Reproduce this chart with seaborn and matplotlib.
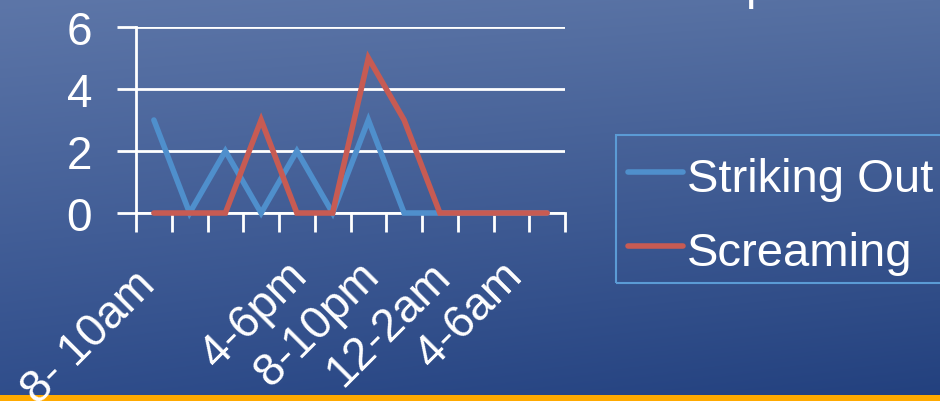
import numpy as np
import pandas as pd
import matplotlib
matplotlib.use('Agg')
import matplotlib.pyplot as plt
from matplotlib.patches import Rectangle
import seaborn as sns

# two-hour time slots, starting at 8am
slots = ["8- 10am ", "10-12pm", "12-2pm", "2-4pm", "4-6pm", "6-8pm",
         "8-10pm", "10-12am", "12-2am", "2-4am", "4-6am", "6-8am"]
# slots whose label is visible on the axis
shown_slots = ["8- 10am ", "4-6pm", "8-10pm", "12-2am", "4-6am"]

striking_out = [3, 0, 2, 0, 2, 0, 3, 0, 0, 0, 0, 0]
screaming = [0, 0, 0, 3, 0, 0, 5, 3, 0, 0, 0, 0]
series_names = ["Striking Out", "Screaming"]
y_ticks = [0, 2, 4, 6]

W, H = 940, 402
pos = np.arange(len(slots))
df = pd.DataFrame({
    "slot": np.concatenate([pos, pos]),
    "count": striking_out + screaming,
    "series": [series_names[0]] * len(slots) + [series_names[1]] * len(slots),
})

sns.set_style("white")
plt.rcParams['font.family'] = ['Liberation Sans', 'DejaVu Sans']

fig = plt.figure(figsize=(W / 100, H / 100), dpi=100)

# slide background: blue gradient + orange strip at the bottom
bg = fig.add_axes([0, 0, 1, 1], zorder=-5)
tl, tr = np.array([93, 118, 168]), np.array([86, 112, 162])
bl, br = np.array([47, 77, 139]), np.array([34, 64, 126])
gy, gx = np.mgrid[0:1:200j, 0:1:400j]
grad = ((1 - gy)[..., None] * ((1 - gx)[..., None] * tl + gx[..., None] * tr)
        + gy[..., None] * ((1 - gx)[..., None] * bl + gx[..., None] * br)) / 255
bg.imshow(grad, aspect='auto', extent=[0, 1, 0, 1], origin='upper')
bg.add_patch(Rectangle((0, 0), 1, 6.3 / H, color='#FFAA00', lw=0))
# legend frame (runs off the right edge of the slide)
bg.add_patch(Rectangle((616 / W, 1 - 284 / H), 0.4, 148 / H, fill=False,
                       edgecolor='#5B9BD5', lw=1.5))
bg.set_xlim(0, 1)
bg.set_ylim(0, 1)
bg.axis('off')

# cut-off slide title (only a descender shows)
fig.text(745 / W, 1 + 1 / H, "p", color='white', fontsize=34, va='baseline', ha='left')

ax = fig.add_axes([136 / W, 1 - 214 / H, (565 - 136) / W, (214 - 28) / H])
ax.set_facecolor('none')
sns.lineplot(data=df, x="slot", y="count", hue="series",
             palette=['#4F8FCC', '#C75B53'], linewidth=4, ax=ax,
             legend=False, clip_on=False, zorder=5)
for ln in ax.lines:
    ln.set_solid_capstyle('round')
    ln.set_solid_joinstyle('miter')

ax.set_xlim(-0.5, len(slots) - 0.5)
ax.set_ylim(0, 6)
ax.set_yticks(y_ticks)
ax.yaxis.grid(True, color='white', lw=2)
ax.set_axisbelow(True)

ax.set_xticks(np.arange(len(slots) + 1) - 0.5)
ax.set_xticklabels([])
ax.set_xticks(pos + 0.1, minor=True)
ax.set_xticklabels([s if s in shown_slots else "" for s in slots], minor=True,
                   rotation=45, ha='right', va='center', rotation_mode='anchor')
ax.tick_params(axis='x', which='major', direction='out', length=14, width=2,
               color='white', bottom=True)
ax.tick_params(axis='x', which='minor', length=0, pad=40, labelsize=33,
               labelcolor='white')
ax.tick_params(axis='y', direction='out', length=14, width=2, color='white',
               left=True, pad=17.5, labelsize=33, labelcolor='white')
ax.set_xlabel("")
ax.set_ylabel("")

for side in ['top', 'right']:
    ax.spines[side].set_visible(False)
ax.spines['left'].set_color('white')
ax.spines['left'].set_linewidth(2)
ax.spines['bottom'].set_color('white')
ax.spines['bottom'].set_linewidth(2)

handles = ax.lines[:2]
leg = ax.legend(handles, series_names, loc='upper left',
                bbox_to_anchor=(628 / W, 1 - 154 / H), bbox_transform=fig.transFigure,
                borderaxespad=0, frameon=False, fontsize=34, handlelength=1.17,
                handleheight=1.03, handletextpad=0.07, labelspacing=0.56,
                borderpad=0)
for t in leg.get_texts():
    t.set_color('white')

fig.savefig("out.png", dpi=100)
